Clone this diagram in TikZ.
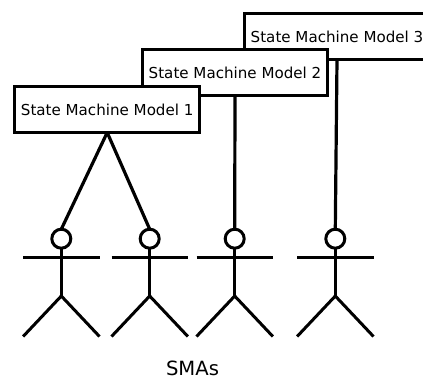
\documentclass[tikz,border=0pt]{standalone}
\usepackage{fontspec}
\setmainfont{DejaVu Sans}
\tikzset{
  modelbox/.style={draw=black,fill=white,line width=3.5pt,minimum width=185pt,minimum height=46pt,inner sep=0pt,outer sep=0pt,font=\fontsize{15.1pt}{17pt}\selectfont},
  headnode/.style={circle,draw=black,fill=white,line width=3pt,minimum size=19pt,inner sep=0pt,outer sep=0pt},
  limb/.style={line width=3pt},
  link/.style={line width=3.2pt}
}
\newcommand{\stickfig}[2]{%
  \node[headnode] (#2) at (#1,238.7) {};
  \coordinate (#2hip) at (#1,296);
  \coordinate (#2la) at ({#1-38.2},257.7);
  \coordinate (#2ra) at ({#1+38.2},257.7);
  \coordinate (#2ll) at ({#1-38.2},336.5);
  \coordinate (#2rl) at ({#1+38.2},336.5);
  \draw[limb] (#2.south) -- (#2hip);
  \draw[limb] (#2la) -- (#2ra);
  \draw[limb] (#2ll) -- (#2hip) -- (#2rl);
}
\begin{document}
\begin{tikzpicture}[x=1pt,y=-1pt]
\useasboundingbox (0,0) rectangle (423,378);
\stickfig{61.3}{a}
\stickfig{149.7}{b}
\stickfig{234.7}{c}
\stickfig{335.3}{d}
\node[modelbox] (m3) at (337,36.5) {State Machine Model 3};
\node[modelbox] (m2) at (235,72.5) {State Machine Model 2};
\node[modelbox] (m1) at (107.2,109.5) {State Machine Model 1};
\draw[link] (m1.south) -- (a.north);
\draw[link] (m1.south) -- (b.north);
\draw[link] (m2.south) -- (c.north);
\draw[link] (m3.south) -- (d.north);
\node[font=\fontsize{19.6pt}{22pt}\selectfont,inner sep=0pt] (sm) at (192.5,368.8) {SMAs};
\end{tikzpicture}
\end{document}
